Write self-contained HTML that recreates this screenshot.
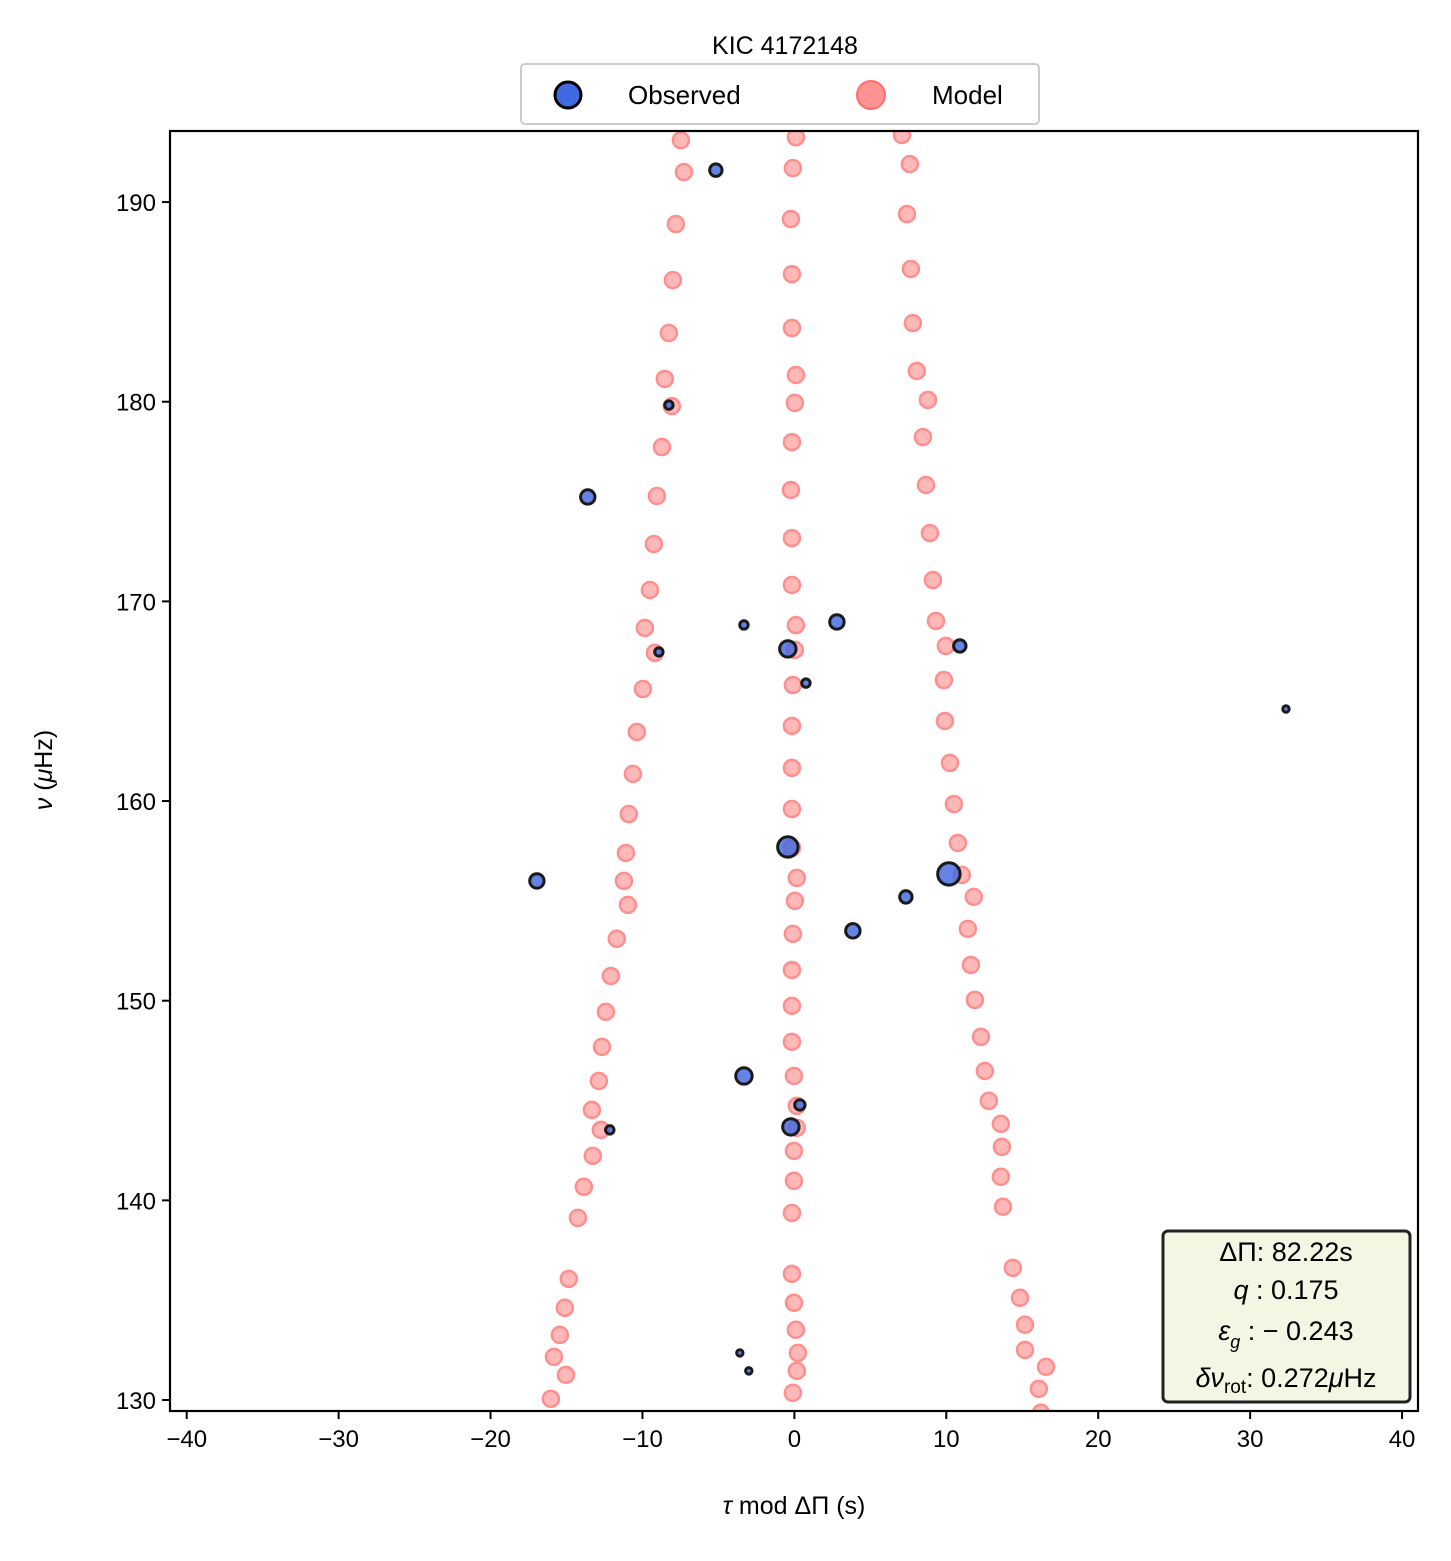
<!DOCTYPE html>
<html><head><meta charset="utf-8"><style>
body{margin:0;background:#fff}
svg text{font-family:"Liberation Sans","DejaVu Sans",sans-serif;fill:#000}
</style></head><body>
<svg id="chart" width="1451" height="1556" viewBox="0 0 1451 1556" xmlns="http://www.w3.org/2000/svg">
<text x="785" y="54" font-size="25" text-anchor="middle">KIC 4172148</text>
<g id="plot"></g>
<g id="axes"></g>
<rect x="170" y="131" width="1248" height="1280" fill="none" stroke="#000" stroke-width="2.2"/>
<g>
<rect x="521" y="64" width="518" height="60" rx="4" fill="#fff" stroke="#ccc" stroke-width="2"/>
<g>
<circle cx="568" cy="95" r="13" fill="#4169e1" stroke="#000" stroke-width="3"/>
<text x="628" y="104" font-size="26">Observed</text></g>
<g>
<circle cx="871" cy="95" r="14" fill="#ff7f7f" stroke="#ff5555" stroke-width="2" opacity="0.85"/>
<text x="932" y="104" font-size="26">Model</text></g>
</g>
<g>
<rect x="1163" y="1231" width="247" height="171" rx="5" fill="#f5f5e3" stroke="#222" stroke-width="3"/>
<text x="1286" y="1261" font-size="27" text-anchor="middle">ΔΠ: 82.22s</text>
<text x="1286" y="1299" font-size="27" text-anchor="middle"><tspan font-style="italic">q</tspan> :  0.175</text>
<text x="1286" y="1340" font-size="27" text-anchor="middle"><tspan font-style="italic">ε</tspan><tspan font-size="18" font-style="italic" dy="8">g</tspan><tspan dy="-8"> : − 0.243</tspan></text>
<text x="1286" y="1387" font-size="27" text-anchor="middle"><tspan font-style="italic">δν</tspan><tspan font-size="19" dy="6">rot</tspan><tspan dy="-6">: 0.272</tspan><tspan font-style="italic">μ</tspan>Hz</text>
</g>
<text x="794" y="1514" font-size="25" text-anchor="middle"><tspan font-style="italic">τ</tspan> mod ΔΠ (s)</text>
<text transform="translate(52,770) rotate(-90)" font-size="25" text-anchor="middle"><tspan font-style="italic">ν</tspan> (<tspan font-style="italic">μ</tspan>Hz)</text>
</svg>
<script>
const xTicks=[-40,-30,-20,-10,0,10,20,30,40];
const yTicks=[130,140,150,160,170,180,190];
const modelLeftX=[-7.47,-7.27,-7.80,-8.00,-8.26,-8.53,-8.07,-8.72,-9.05,-9.25,-9.51,-9.84,-9.18,-9.97,-10.37,-10.63,-10.90,-11.09,-11.22,-10.96,-11.69,-12.08,-12.41,-12.67,-12.87,-13.33,-12.74,-13.27,-13.86,-14.25,-14.85,-15.11,-15.44,-15.83,-15.04,-16.03];
const modelLeftY=[193.10,191.50,188.90,186.09,183.44,181.14,179.78,177.73,175.28,172.87,170.57,168.67,167.42,165.61,163.46,161.36,159.35,157.40,156.00,154.80,153.10,151.24,149.44,147.69,145.98,144.53,143.53,142.23,140.68,139.12,136.07,134.62,133.26,132.16,131.26,130.06];
const modelCenterX=[0.10,-0.10,-0.23,-0.16,-0.16,0.10,0.03,-0.16,-0.23,-0.16,-0.16,0.10,0.03,-0.10,-0.16,-0.16,-0.16,-0.16,0.16,0.03,-0.10,-0.16,-0.16,-0.16,-0.03,0.16,0.16,-0.03,-0.03,-0.16,-0.16,-0.03,0.10,0.23,0.16,-0.10];
const modelCenterY=[193.25,191.70,189.15,186.39,183.69,181.34,179.94,177.98,175.58,173.17,170.82,168.81,167.57,165.81,163.76,161.66,159.60,157.65,156.15,155.00,153.35,151.54,149.74,147.94,146.23,144.73,143.63,142.48,140.98,139.37,136.32,134.87,133.52,132.36,131.46,130.36];
const modelRightX=[7.08,7.60,7.41,7.67,7.80,8.06,8.79,8.46,8.66,8.92,9.12,9.32,9.97,9.84,9.91,10.24,10.50,10.76,11.02,11.81,11.42,11.62,11.88,12.28,12.54,12.80,13.59,13.66,13.59,13.73,14.38,14.85,15.18,15.18,16.56,16.09,16.23];
const modelRightY=[193.36,191.90,189.40,186.65,183.94,181.54,180.09,178.23,175.83,173.42,171.07,169.02,167.77,166.06,164.01,161.91,159.85,157.90,156.30,155.20,153.60,151.79,150.04,148.19,146.48,144.98,143.83,142.68,141.18,139.68,136.62,135.12,133.77,132.51,131.66,130.56,129.36];
const obsX=[-5.17,-8.26,-13.60,-3.32,2.80,-8.92,-0.43,10.89,0.76,32.36,-0.43,-16.95,10.17,7.34,3.85,-3.32,-12.15,0.36,-0.23,-3.59,-3.00];
const obsY=[191.60,179.83,175.23,168.82,168.97,167.47,167.62,167.77,165.91,164.61,157.70,156.00,156.35,155.20,153.50,146.23,143.53,144.78,143.68,132.36,131.46];
const obsSize=[5,3,6,3,6,3,7,5,3,2,9,6,10,5,6,7,3,4,7,2,2];

const NS='http://www.w3.org/2000/svg';
const X0=170,X1=1418,Y0=131,Y1=1411;
const xMin=-41.1,xMax=41.05,yMin=129.45,yMax=193.56;
const sx=v=>X0+(v-xMin)/(xMax-xMin)*(X1-X0);
const sy=v=>Y1-(v-yMin)/(yMax-yMin)*(Y1-Y0);
const plot=document.getElementById('plot'),axes=document.getElementById('axes');
const clip=document.createElementNS(NS,'clipPath');clip.setAttribute('id','clp');
const cr=document.createElementNS(NS,'rect');cr.setAttribute('x',X0);cr.setAttribute('y',Y0);cr.setAttribute('width',X1-X0);cr.setAttribute('height',Y1-Y0);
clip.appendChild(cr);document.getElementById('chart').appendChild(clip);
plot.setAttribute('clip-path','url(#clp)');
function mk(tag,a){const e=document.createElementNS(NS,tag);for(const k in a)e.setAttribute(k,a[k]);return e;}
function model(xs,ys,nm){xs.forEach((x,i)=>{const c=mk('circle',{cx:sx(x),cy:sy(ys[i]),r:8,fill:'#ffb8b8',stroke:'#ff8f8f','stroke-width':2.5});


plot.appendChild(c);});}
model(modelLeftX,modelLeftY,'model-point-left');
model(modelCenterX,modelCenterY,'model-point-center');
model(modelRightX,modelRightY,'model-point-right');
obsX.forEach((x,i)=>{const c=mk('circle',{cx:sx(x),cy:sy(obsY[i]),r:obsSize[i]+1.2,fill:'rgba(65,105,225,0.82)',stroke:'#1a1a1a','stroke-width':3});


plot.appendChild(c);});
xTicks.forEach(t=>{const x=sx(t);axes.appendChild(mk('line',{x1:x,x2:x,y1:Y1,y2:Y1+8,stroke:'#000','stroke-width':2}));
const tx=mk('text',{x:x,y:Y1+36,'font-size':24,'text-anchor':'middle'});tx.textContent=t<0?'−'+(-t):t;


axes.appendChild(tx);});
yTicks.forEach(t=>{const y=sy(t);axes.appendChild(mk('line',{x1:X0-8,x2:X0,y1:y,y2:y,stroke:'#000','stroke-width':2}));
const tx=mk('text',{x:X0-14,y:y+9,'font-size':24,'text-anchor':'end'});tx.textContent=t;


axes.appendChild(tx);});
</script>
</body></html>
